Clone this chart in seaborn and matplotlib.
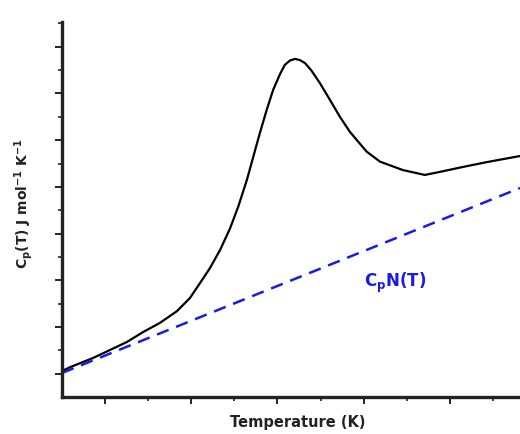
import numpy as np
import pandas as pd
import matplotlib
matplotlib.use("Agg")
import matplotlib.pyplot as plt
from matplotlib.ticker import FixedLocator
import seaborn as sns

# Measured heat capacity (arbitrary units)
temperature = [0.00, 0.19, 0.72, 1.11, 1.51, 1.88, 2.27, 2.67, 2.97, 3.20, 3.43,
               3.67, 3.90, 4.09, 4.29, 4.44, 4.59, 4.75, 4.90, 5.06, 5.17, 5.29,
               5.41, 5.52, 5.64, 5.79, 5.99, 6.22, 6.45, 6.68, 6.84, 7.07, 7.38,
               7.91, 8.42, 8.77, 9.30, 9.86, 10.63]
cp_total = [1.11, 1.28, 1.67, 2.01, 2.36, 2.78, 3.17, 3.68, 4.24, 4.87, 5.51,
            6.30, 7.22, 8.15, 9.29, 10.29, 11.29, 12.29, 13.15, 13.83, 14.22, 14.41,
            14.48, 14.43, 14.30, 13.98, 13.43, 12.72, 12.00, 11.36, 11.01, 10.51, 10.08,
            9.72, 9.51, 9.64, 9.85, 10.06, 10.32]

# Normal-state background C_pN(T)
temperature_n = [0.00, 10.63]
cp_normal = [1.03, 8.95]

df_total = pd.DataFrame({"T": temperature, "Cp": cp_total})
df_normal = pd.DataFrame({"T": temperature_n, "Cp": cp_normal})

sns.set_style("ticks")
plt.rcParams["mathtext.fontset"] = "dejavusans"
plt.rcParams["mathtext.default"] = "bf"

fig = plt.figure(figsize=(5.2, 4.34), dpi=100)
ax = fig.add_axes([62 / 520, 37 / 434, 1 - 62 / 520, 375 / 434])

sns.lineplot(data=df_total, x="T", y="Cp", ax=ax, color="black", lw=1.6,
             estimator=None, sort=False, solid_joinstyle="round")
sns.lineplot(data=df_normal, x="T", y="Cp", ax=ax, color="#1a1ae6", lw=1.8,
             estimator=None, sort=False, linestyle=(0, (5, 3.2)))

ax.set_xlim(0, 10.63)
ax.set_ylim(0, 16.06)

ax.xaxis.set_major_locator(FixedLocator([1, 3, 5, 7, 9]))
ax.xaxis.set_minor_locator(FixedLocator([2, 4, 6, 8, 10]))
ax.yaxis.set_major_locator(FixedLocator([1, 3, 5, 7, 9, 11, 13, 15]))
ax.yaxis.set_minor_locator(FixedLocator([2, 4, 6, 8, 10, 12, 14, 16]))
ax.tick_params(which="major", length=5, width=1.4, color="#222222",
               labelbottom=False, labelleft=False, direction="out")
ax.tick_params(which="minor", length=3, width=1.2, color="#222222", direction="out")

for side in ("top", "right"):
    ax.spines[side].set_visible(False)
for side in ("left", "bottom"):
    ax.spines[side].set_linewidth(2.4)
    ax.spines[side].set_color("#222222")

ax.set_xlabel("Temperature (K)", fontsize=10.5, fontweight="bold", color="#222222")
ax.xaxis.set_label_coords(236 / 458, -18 / 375)
ax.set_ylabel(r"C$_{p}$(T) J mol$^{-1}$ K$^{-1}$", fontsize=10, fontweight="bold",
              color="#222222")
ax.yaxis.set_label_coords(-27 / 458, 193 / 375)

ax.text(7.0, 4.88, r"C$_{p}$N(T)", color="#1a1ae6", fontsize=12, fontweight="bold",
        ha="left", va="center")

fig.savefig("out.png", dpi=100)
